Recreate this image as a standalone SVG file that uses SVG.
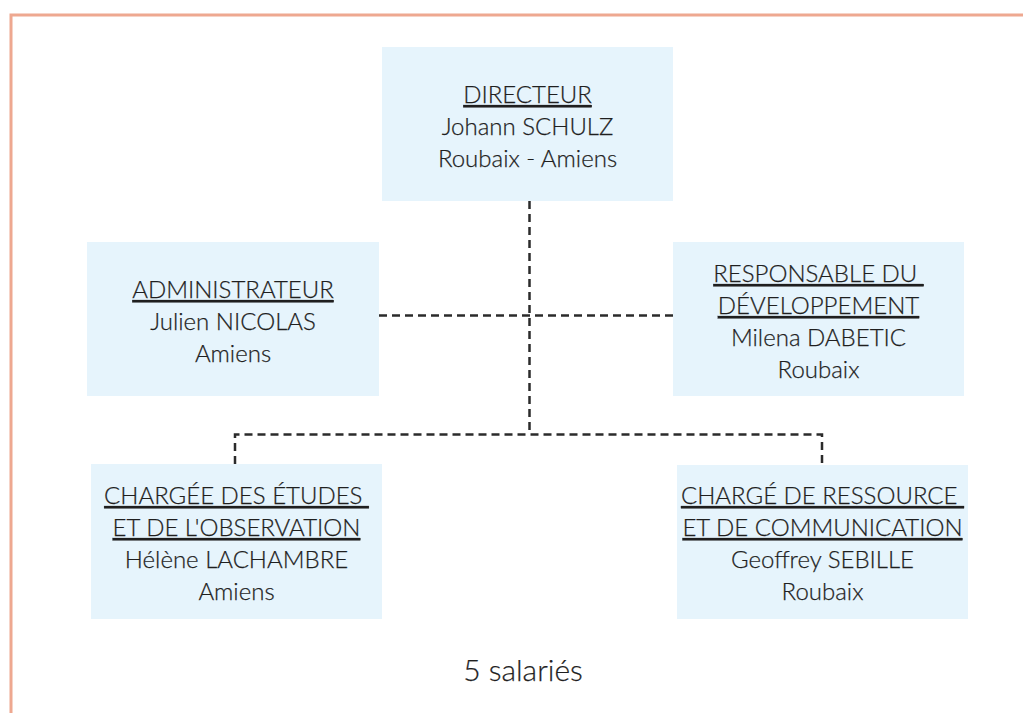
<svg xmlns="http://www.w3.org/2000/svg" width="1023" height="713" viewBox="0 0 1023 713">
<style>
.box{fill:#e6f4fc}
.t{font-family:Lato,"Noto Sans",sans-serif;font-size:24px;font-weight:300;fill:#1f1f1f;stroke:#1f1f1f;stroke-width:0.25;text-anchor:middle}
.u{text-decoration:underline}
.c{fill:none;stroke:#2b2b2b;stroke-width:2.5;stroke-dasharray:8 5}
</style>
<rect x="0" y="0" width="1023" height="713" fill="#ffffff"/>
<rect x="11" y="15" width="1040" height="720" fill="none" stroke="#eea890" stroke-width="3"/>
<g id="connectors">
<path class="c" d="M529.5 201 V434"/>
<path class="c" d="M379 315.5 H673"/>
<path class="c" d="M235 464 V434.5 H822 V465"/>
</g>
<g id="directeur">
<rect class="box" x="382" y="47" width="291" height="154"/>
<text class="t" x="527.5" y="103"><tspan class="u">DIRECTEUR</tspan><tspan x="527.5" y="135">Johann SCHULZ</tspan><tspan x="527.5" y="167">Roubaix - Amiens</tspan></text>
</g>
<g id="administrateur">
<rect class="box" x="87" y="242" width="292" height="154"/>
<text class="t" x="233" y="298"><tspan class="u">ADMINISTRATEUR</tspan><tspan x="233" y="330">Julien NICOLAS</tspan><tspan x="233" y="362">Amiens</tspan></text>
</g>
<g id="responsable">
<rect class="box" x="673" y="242" width="291" height="154"/>
<text class="t" x="818.5" y="282"><tspan class="u">RESPONSABLE DU </tspan><tspan class="u" x="818.5" y="314">DÉVELOPPEMENT</tspan><tspan x="818.5" y="346">Milena DABETIC</tspan><tspan x="818.5" y="378">Roubaix</tspan></text>
</g>
<g id="chargee">
<rect class="box" x="91" y="464" width="291" height="155"/>
<text class="t" x="236.5" y="504"><tspan class="u">CHARGÉE DES ÉTUDES </tspan><tspan class="u" x="236.5" y="536">ET DE L'OBSERVATION</tspan><tspan x="236.5" y="568">Hélène LACHAMBRE</tspan><tspan x="236.5" y="600">Amiens</tspan></text>
</g>
<g id="charge">
<rect class="box" x="677" y="465" width="291" height="154"/>
<text class="t" x="822.5" y="504"><tspan class="u">CHARGÉ DE RESSOURCE </tspan><tspan class="u" x="822.5" y="536">ET DE COMMUNICATION</tspan><tspan x="822.5" y="568">Geoffrey SEBILLE</tspan><tspan x="822.5" y="600">Roubaix</tspan></text>
</g>
<text class="t" x="523" y="681" style="font-size:30px">5 salariés</text>
</svg>
